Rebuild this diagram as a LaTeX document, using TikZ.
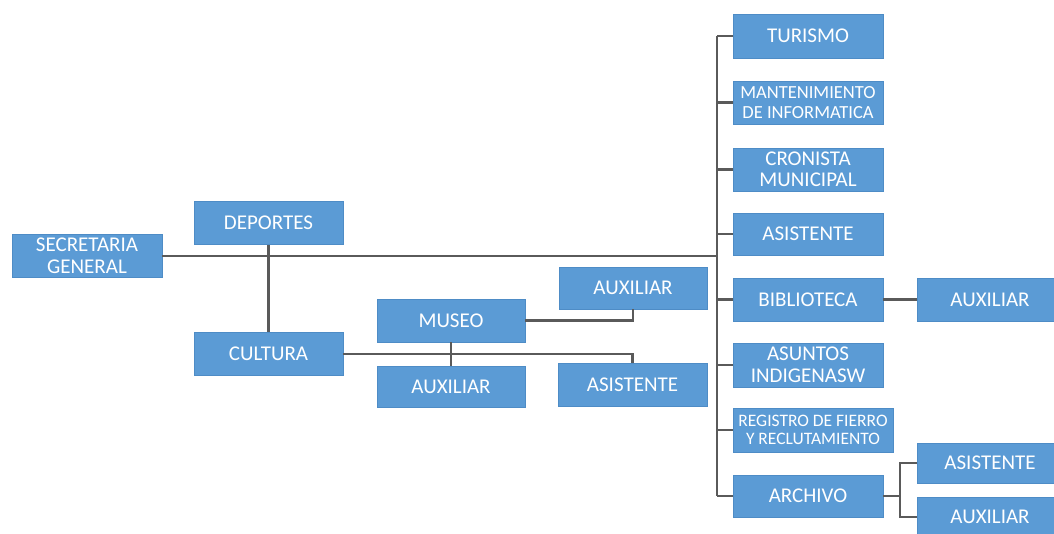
\documentclass[tikz,border=0pt]{standalone}
\usepackage{fontspec}
\setmainfont{Carlito}
\definecolor{boxblue}{HTML}{5B9BD5}
\definecolor{boxedge}{HTML}{4E8CC6}
\definecolor{linegray}{HTML}{5A5A5A}
\begin{document}
\begin{tikzpicture}[x=1pt,y=-1pt,
  orgbox/.style={rectangle, fill=boxblue, draw=boxedge, line width=0.8pt,
    text=white, align=center, inner sep=0pt,
    minimum width=150pt, minimum height=43pt,
    font=\fontsize{21}{21.5}\selectfont},
  smallfont/.style={font=\fontsize{18.5}{19.5}\selectfont},
  tinyfont/.style={font=\fontsize{17.5}{18.5}\selectfont},
  link/.style={draw=linegray, line width=2.2pt}]
\useasboundingbox (0,0) rectangle (1054,534);
\fill[white] (0,0) rectangle (1054,534);

% left part
\node[orgbox] (sec) at (87,256) {SECRETARIA\\GENERAL};
\node[orgbox, minimum width=149pt] (dep) at (268.5,223) {DEPORTES};
\node[orgbox, minimum width=149pt] (cul) at (268.5,354) {CULTURA};
\node[orgbox, minimum width=148pt] (museo) at (451,320.5) {MUSEO};
\node[orgbox, minimum width=148pt, minimum height=42pt] (auxm) at (633,288) {AUXILIAR};
\node[orgbox, minimum width=148pt, minimum height=41pt] (auxc) at (451,386.5) {AUXILIAR};
\node[orgbox, minimum width=149pt] (asic) at (632.5,384.5) {ASISTENTE};

% right column
\node[orgbox, minimum height=44pt] (tur) at (808,36) {TURISMO};
\node[orgbox, smallfont] (man) at (808,102.5) {MANTENIMIENTO\\DE INFORMATICA};
\node[orgbox] (cro) at (808,169.5) {CRONISTA\\MUNICIPAL};
\node[orgbox, minimum height=42pt] (asi) at (808,234) {ASISTENTE};
\node[orgbox] (bib) at (808,299.5) {BIBLIOTECA};
\node[orgbox, minimum height=44pt] (asu) at (808,365) {ASUNTOS\\INDIGENASW};
\node[orgbox, tinyfont, minimum width=160pt, minimum height=44pt] (reg) at (813,430) {REGISTRO DE FIERRO\\Y RECLUTAMIENTO};
\node[orgbox, minimum height=42pt] (arc) at (808,496) {ARCHIVO};
\node[orgbox, minimum width=146pt] (auxb) at (990,299.5) {AUXILIAR};
\node[orgbox, minimum width=146pt, minimum height=40pt] (asia) at (990,463) {ASISTENTE};
\node[orgbox, minimum width=146pt, minimum height=40pt] (auxa) at (990,517) {AUXILIAR};

% bus
\coordinate (bus) at (717,256);
\draw[link] (tur.west -| bus) -- (arc.west -| bus);
\draw[link] (sec.east) -- (bus);
\foreach \n in {tur,man,cro,asi,bib,asu,reg,arc}
  \draw[link] (\n.west) -- (\n.west -| bus);

% left connectors
\draw[link] (dep.south) -- (cul.north);
\draw[link] (cul.east) -- (cul.east -| asic.north) -- (asic.north);
\draw[link] (museo.east) -- (museo.east -| auxm.south) -- (auxm.south);
\draw[link] (museo.south) -- (auxc.north);

% right connectors
\draw[link] (bib.east) -- (auxb.west);
\coordinate (ak) at (900,496);
\draw[link] (arc.east) -- (ak);
\draw[link] (asia.west) -- (asia.west -| ak) -- (auxa.west -| ak) -- (auxa.west);
\end{tikzpicture}
\end{document}
